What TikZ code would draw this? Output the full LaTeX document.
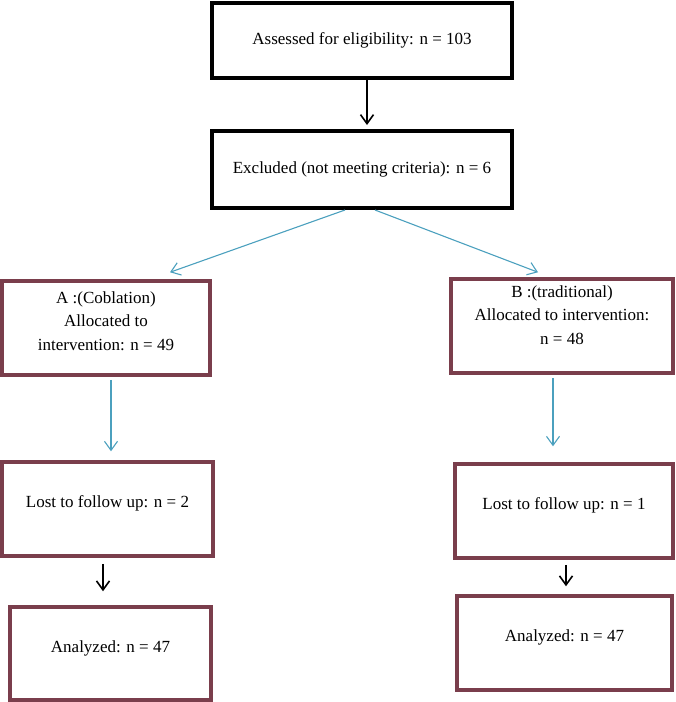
\documentclass[tikz,border=0pt]{standalone}
\usepackage{fontspec}
\setmainfont{Liberation Serif}
\usetikzlibrary{arrows.meta}
\definecolor{boxred}{RGB}{122,62,76}
\definecolor{arrowblue}{RGB}{75,160,190}
\begin{document}
\begin{tikzpicture}[x=1pt,y=-1pt,
		font=\fontsize{17}{23.5}\selectfont,
		blackbox/.style={draw=black,line width=4pt,align=center,inner sep=2pt},
		redbox/.style={draw=boxred,line width=3.5pt,align=center,inner sep=2pt},
		blackarrow/.style={line width=1.6pt,-{Straight Barb[length=9pt,width=13pt,line width=1.6pt]}},
		bluearrow/.style={draw=arrowblue,line width=1.1pt,-{Straight Barb[length=9pt,width=13pt,line width=1.1pt]}}]
		\useasboundingbox (0,0) rectangle (676,702);
		
		\node[blackbox,minimum width=300pt,minimum height=75pt] (assess) at (362,40) {Assessed for eligibility: n = 103};
		\node[blackbox,minimum width=300pt,minimum height=77pt] (excl) at (362,169.5) {Excluded (not meeting criteria): n = 6};
		
		\node[redbox,minimum width=208pt,minimum height=94pt,text depth=14pt] (allocA) at (106,328) {A :(Coblation)\\Allocated to\\intervention: n = 49};
		\node[redbox,minimum width=222pt,minimum height=94pt,text depth=22pt] (allocB) at (562,326) {B :(traditional)\\Allocated to intervention:\\n = 48};
		
		\node[redbox,minimum width=211pt,minimum height=94pt,text depth=14pt] (lostA) at (107.5,509) {Lost to follow up: n = 2};
		\node[redbox,minimum width=218pt,minimum height=94pt,text depth=14pt] (lostB) at (564,511) {Lost to follow up: n = 1};
		
		\node[redbox,minimum width=201pt,minimum height=93pt,text depth=14pt] (anaA) at (110.5,653.5) {Analyzed: n = 47};
		\node[redbox,minimum width=215pt,minimum height=94pt,text depth=14pt] (anaB) at (564.5,643) {Analyzed: n = 47};
		
		\draw[blackarrow,shorten >=4pt] ([xshift=5pt]assess.south) -- ([xshift=5pt]excl.north);
		
		\draw[bluearrow] ([xshift=-17pt]excl.south) -- ([xshift=64pt,yshift=7pt]allocA.north);
		\draw[bluearrow] ([xshift=13pt]excl.south) -- ([xshift=-24pt,yshift=5pt]allocB.north);
		
		\draw[bluearrow,shorten <=3pt,shorten >=9pt] ([xshift=5pt]allocA.south) -- ([xshift=5pt]allocA.south |- lostA.north);
		\draw[bluearrow,shorten <=3pt,shorten >=16pt] ([xshift=-9pt]allocB.south) -- ([xshift=-9pt]allocB.south |- lostB.north);
		
		\draw[blackarrow,shorten <=6pt,shorten >=14pt] ([xshift=-4.5pt]lostA.south) -- ([xshift=-4.5pt]lostA.south |- anaA.north);
		\draw[blackarrow,shorten <=5pt,shorten >=8pt] ([xshift=2pt]lostB.south) -- ([xshift=2pt]lostB.south |- anaB.north);
\end{tikzpicture}
\end{document}
